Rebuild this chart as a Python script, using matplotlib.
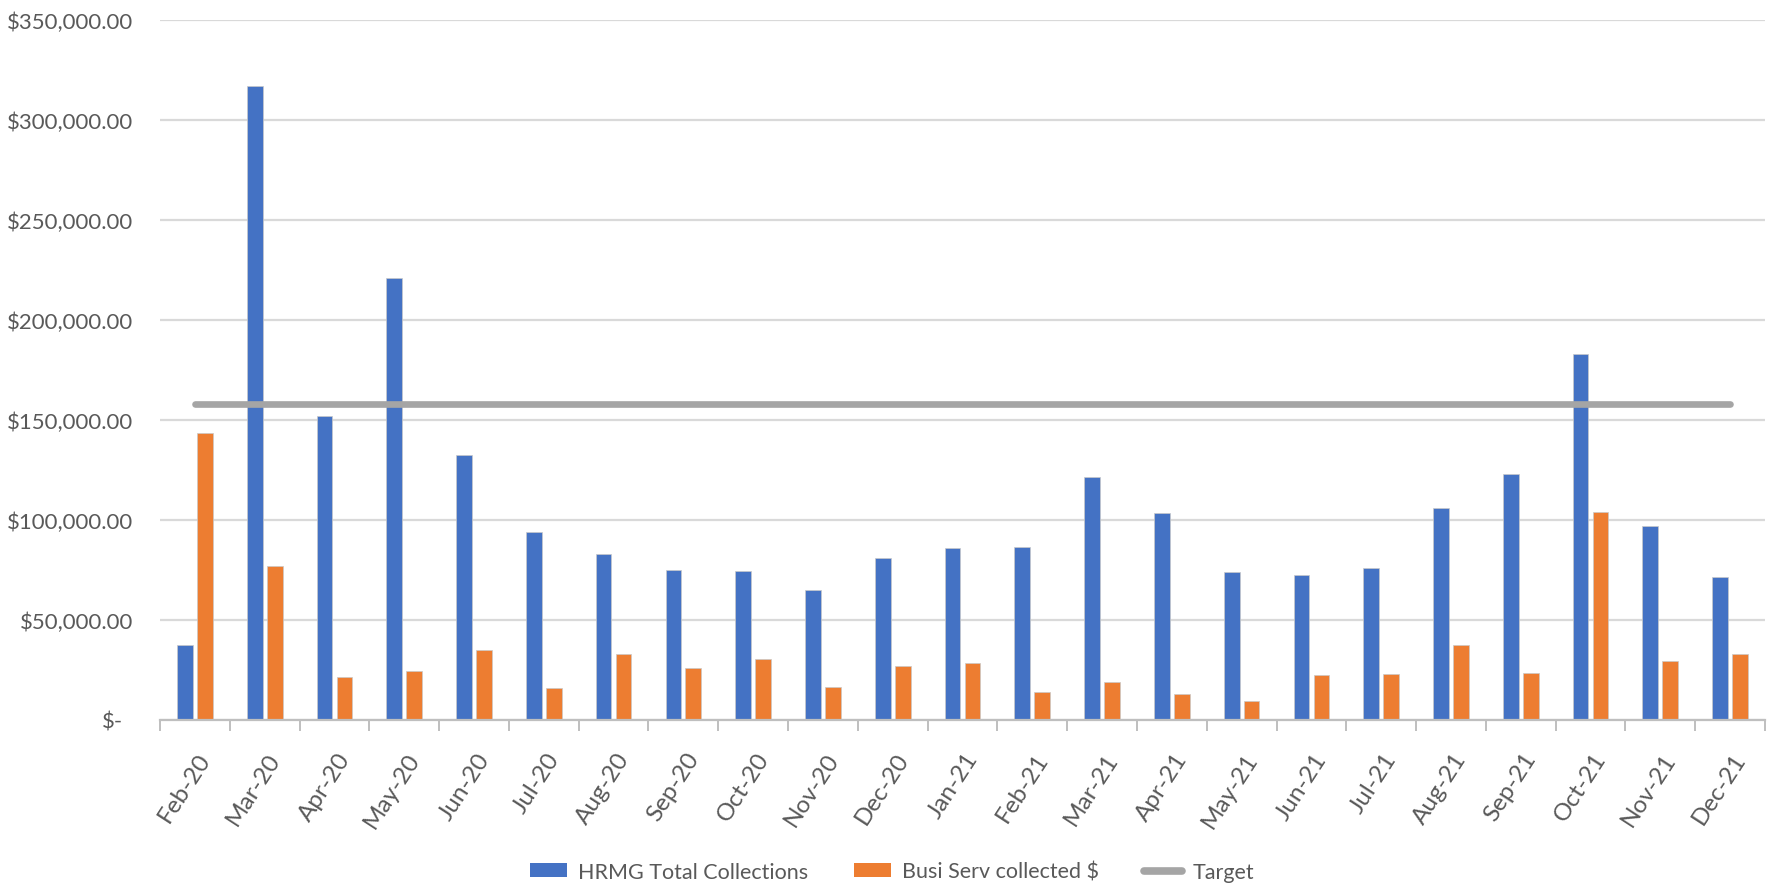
import matplotlib
matplotlib.use("Agg")
import matplotlib.pyplot as plt
import matplotlib.transforms as mtransforms
from matplotlib.lines import Line2D
from matplotlib.patches import Patch
import numpy as np

plt.rcParams['font.family'] = ['Lato', 'DejaVu Sans']

months = ["Feb-20", "Mar-20", "Apr-20", "May-20", "Jun-20", "Jul-20", "Aug-20",
          "Sep-20", "Oct-20", "Nov-20", "Dec-20", "Jan-21", "Feb-21", "Mar-21",
          "Apr-21", "May-21", "Jun-21", "Jul-21", "Aug-21", "Sep-21", "Oct-21",
          "Nov-21", "Dec-21"]

hrmg_total = [37200, 317000, 151800, 220800, 132200, 93700, 83000,
              75000, 74400, 64700, 81000, 85600, 86100, 121500,
              103100, 73900, 72500, 75900, 105800, 122800, 182800,
              96600, 71200]

busi_serv = [143300, 76900, 21400, 24100, 34600, 15800, 32700,
             25600, 30100, 16400, 26900, 28100, 13700, 18900,
             13000, 9200, 22200, 22900, 37300, 23400, 103900,
             29400, 32600]

target = [157700] * len(months)

y_ticks = [0, 50000, 100000, 150000, 200000, 250000, 300000, 350000]
y_tick_labels = ["$-", "$50,000.00", "$100,000.00", "$150,000.00",
                 "$200,000.00", "$250,000.00", "$300,000.00", "$350,000.00"]

BLUE = "#4472C4"
ORANGE = "#ED7D31"
GRAY = "#A5A5A5"
TEXT = "#595959"
GRID = "#D9D9D9"

fig = plt.figure(figsize=(17.71, 8.95), dpi=100)
ax = fig.add_axes([160 / 1771, 174.5 / 895, (1765 - 160) / 1771, 700 / 895])

x = np.arange(len(months))
w = 0.225
off = 0.143
ax.bar(x - off, hrmg_total, width=w, color=BLUE, edgecolor="#C9C9C9",
       linewidth=0.5, zorder=2, label="HRMG Total Collections")
ax.bar(x + off, busi_serv, width=w, color=ORANGE, edgecolor="#C9C9C9",
       linewidth=0.5, zorder=2, label="Busi Serv collected $")
ax.plot(x, target, color=GRAY, linewidth=4.8, solid_capstyle="round",
        zorder=3, label="Target")

ax.set_xlim(-0.5, len(months) - 0.5)
ax.set_ylim(0, 350000)

# horizontal gridlines and currency labels
ax.set_yticks(y_ticks)
ax.set_yticklabels(y_tick_labels)
ax.yaxis.grid(True, color=GRID, linewidth=1.6, zorder=0)
ax.set_axisbelow(True)
ax.tick_params(axis="y", length=0, pad=19, labelsize=16, labelcolor=TEXT)
# the zero label sits a little further left, as in accounting format
zero_shift = mtransforms.ScaledTranslation(-11 / 100, 0, fig.dpi_scale_trans)
zlbl = ax.get_yticklabels()[0]
zlbl.set_transform(zlbl.get_transform() + zero_shift)

# category labels at centres, tick marks at category boundaries
ax.set_xticks(x)
ax.set_xticklabels(months, rotation=57, ha="right", va="top",
                   rotation_mode="anchor")
ax.set_xticks(np.arange(-0.5, len(months), 1), minor=True)
ax.tick_params(axis="x", which="major", length=0, pad=21, labelsize=17.5,
               labelcolor=TEXT)
ax.tick_params(axis="x", which="minor", length=8, width=1.4, color="#BFBFBF",
               direction="out")
shift = mtransforms.ScaledTranslation(2 / 100, 0, fig.dpi_scale_trans)
for lbl in ax.get_xticklabels():
    lbl.set_transform(lbl.get_transform() + shift)

for side in ["top", "right", "left"]:
    ax.spines[side].set_visible(False)
ax.spines["bottom"].set_color("#BFBFBF")
ax.spines["bottom"].set_linewidth(1.6)

handles = [Patch(facecolor=BLUE, edgecolor="none"),
           Patch(facecolor=ORANGE, edgecolor="none"),
           Line2D([0], [0], color=GRAY, linewidth=5.5, solid_capstyle="round")]
labels = ["HRMG Total Collections", "Busi Serv collected $", "Target"]
fig.legend(handles, labels, loc="center", bbox_to_anchor=(892 / 1771, 1 - 873 / 895),
           ncol=3, frameon=False, fontsize=15.5, labelcolor=TEXT,
           handlelength=1.75, handleheight=0.62, handletextpad=0.5,
           columnspacing=2.1)

fig.savefig("out.png", dpi=100)
